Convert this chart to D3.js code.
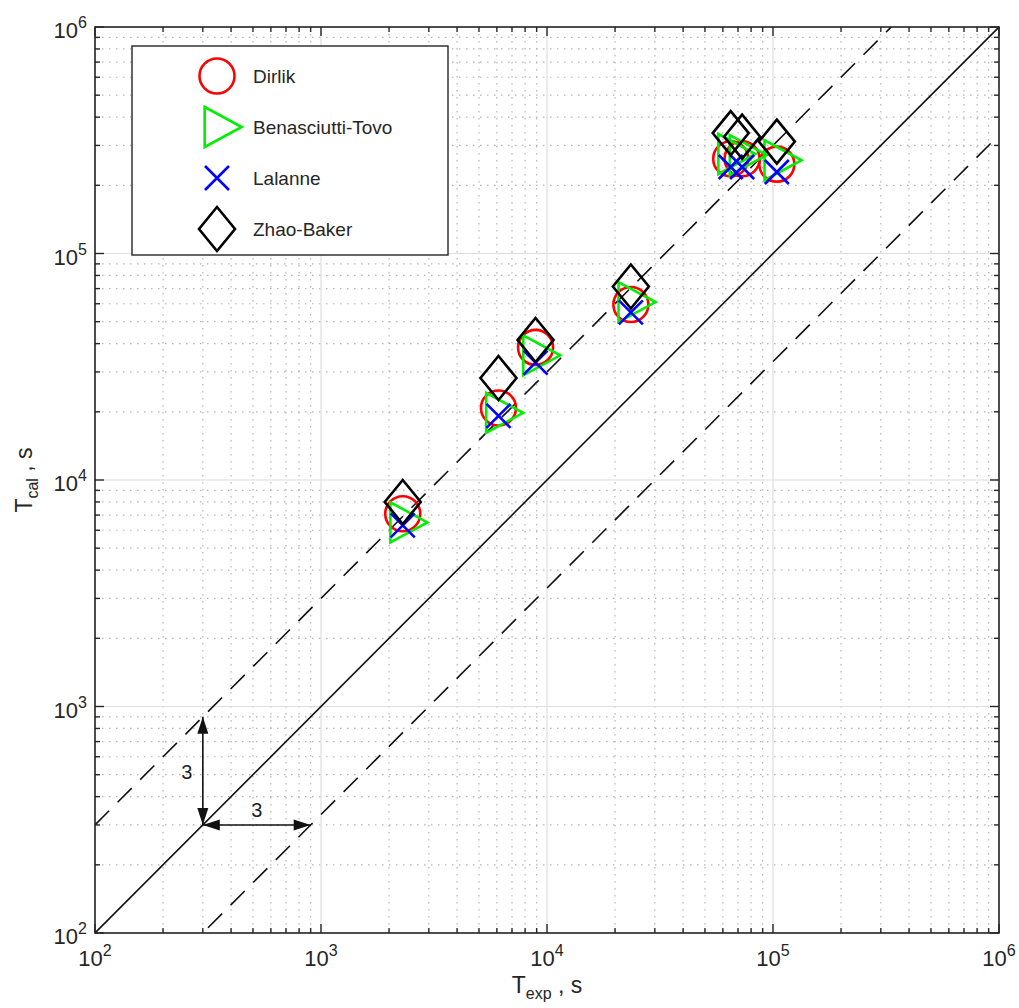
<!DOCTYPE html>
<html>
<head>
<meta charset="utf-8">
<script src="https://cdn.jsdelivr.net/npm/d3@7"></script>
<style>
  html, body { margin: 0; padding: 0; background: #fff; overflow: hidden; }
  svg { display: block; font-family: "Liberation Sans", Arial, sans-serif; }
</style>
</head>
<body>
<svg width="1019" height="1008"></svg>
<script>
const width = 1019;
const height = 1008;

// experimental fatigue lives (s)
const tExp = [2300, 6100, 8900, 23500, 65000, 73000, 104000];
// calculated fatigue lives (s) per method
const dirlik = [7100, 20800, 38500, 59500, 262000, 262000, 248000];
const benasciuttiTovo = [6500, 19800, 35500, 61000, 275000, 272000, 258000];
const lalanne = [6300, 19200, 33000, 55000, 241000, 241000, 229000];
const zhaoBaker = [8000, 28200, 41500, 71500, 340000, 328000, 312000];

const seriesNames = ['Dirlik', 'Benasciutti-Tovo', 'Lalanne', 'Zhao-Baker'];
const seriesValues = [dirlik, benasciuttiTovo, lalanne, zhaoBaker];
const seriesColors = ['#ff0000', '#00ee00', '#0000ff', '#000000'];
const seriesShapes = ['circle', 'triangle', 'cross', 'diamond'];

const decades = [1e2, 1e3, 1e4, 1e5, 1e6];
const scatterFactor = 3;

const svg = d3.select('svg');

const margin = { top: 27, right: 20, bottom: 75, left: 95 };
const innerWidth = width - margin.left - margin.right;
const innerHeight = height - margin.top - margin.bottom;

const xScale = d3.scaleLog().domain([1e2, 1e6]).range([margin.left, margin.left + innerWidth]);
const yScale = d3.scaleLog().domain([1e2, 1e6]).range([margin.top + innerHeight, margin.top]);

const x0 = xScale.range()[0], x1 = xScale.range()[1];
const y0 = yScale.range()[1], y1 = yScale.range()[0];

// minor values 2..9 in each decade
const minors = [];
decades.slice(0, -1).forEach(d => {
    for (let k = 2; k <= 9; k++) minors.push(d * k);
});

svg.append('defs').append('clipPath').attr('id', 'plot')
    .append('rect')
    .attr('x', x0).attr('y', y0)
    .attr('width', x1 - x0).attr('height', y1 - y0);

// grid
const grid = svg.append('g');
grid.selectAll('.minor-x').data(minors).enter().append('line')
    .attr('x1', d => xScale(d)).attr('x2', d => xScale(d))
    .attr('y1', y0).attr('y2', y1)
    .attr('stroke', '#b4b4b4').attr('stroke-width', 1.2)
    .attr('stroke-dasharray', '1.5,5.5');
grid.selectAll('.minor-y').data(minors).enter().append('line')
    .attr('y1', d => yScale(d)).attr('y2', d => yScale(d))
    .attr('x1', x0).attr('x2', x1)
    .attr('stroke', '#b4b4b4').attr('stroke-width', 1.2)
    .attr('stroke-dasharray', '1.5,5.5');
grid.selectAll('.major-x').data(decades).enter().append('line')
    .attr('x1', d => xScale(d)).attr('x2', d => xScale(d))
    .attr('y1', y0).attr('y2', y1)
    .attr('stroke', '#dedede').attr('stroke-width', 1.2);
grid.selectAll('.major-y').data(decades).enter().append('line')
    .attr('y1', d => yScale(d)).attr('y2', d => yScale(d))
    .attr('x1', x0).attr('x2', x1)
    .attr('stroke', '#dedede').attr('stroke-width', 1.2);

// reference lines: y = x, y = 3x, y = x/3
const lines = svg.append('g').attr('clip-path', 'url(#plot)');
const refLines = [
    { f: 1, dash: null },
    { f: scatterFactor, dash: '20,12' },
    { f: 1 / scatterFactor, dash: '20,12' }
];
refLines.forEach(r => {
    lines.append('line')
        .attr('x1', xScale(1e2)).attr('y1', yScale(1e2 * r.f))
        .attr('x2', xScale(1e6)).attr('y2', yScale(1e6 * r.f))
        .attr('stroke', '#111').attr('stroke-width', 1.6)
        .attr('stroke-dasharray', r.dash);
});

// arrows showing factor 3
const arrows = svg.append('g');
const arrowHead = (x, y, dx, dy) => {
    const L = 17, W = 5.5;
    const nx = -dy, ny = dx;
    return `M${x},${y}L${x - dx * L + nx * W},${y - dy * L + ny * W}L${x - dx * L - nx * W},${y - dy * L - ny * W}Z`;
};
const ax = xScale(300), ay = yScale(300);
const topY = yScale(900), rightX = xScale(900);
arrows.append('line').attr('x1', ax).attr('y1', ay).attr('x2', ax).attr('y2', topY)
    .attr('stroke', '#111').attr('stroke-width', 1.6);
arrows.append('line').attr('x1', ax).attr('y1', ay).attr('x2', rightX).attr('y2', ay)
    .attr('stroke', '#111').attr('stroke-width', 1.6);
[
    arrowHead(ax, topY, 0, -1),
    arrowHead(ax, ay, 0, 1),
    arrowHead(ax, ay, -1, 0),
    arrowHead(rightX, ay, 1, 0)
].forEach(p => arrows.append('path').attr('d', p).attr('fill', '#111'));
arrows.append('text').text('3')
    .attr('x', ax - 16).attr('y', (ay + topY) / 2 + 8)
    .attr('text-anchor', 'middle').attr('font-size', 20).attr('fill', '#222');
arrows.append('text').text('3')
    .attr('x', (ax + rightX) / 2).attr('y', ay - 8)
    .attr('text-anchor', 'middle').attr('font-size', 20).attr('fill', '#222');

// marker shapes
const markerPath = (shape) => {
    if (shape === 'circle') {
        const r = 17.5;
        return `M${r},0A${r},${r} 0 1,1 ${-r},0A${r},${r} 0 1,1 ${r},0Z`;
    }
    if (shape === 'triangle') {
        const w = 37, h = 40;
        return `M${-w / 3},${-h / 2}L${2 * w / 3},0L${-w / 3},${h / 2}Z`;
    }
    if (shape === 'cross') {
        const s = 12;
        return `M${-s},${-s}L${s},${s}M${-s},${s}L${s},${-s}`;
    }
    const w = 18, h = 22;
    return `M0,${-h}L${w},0L0,${h}L${-w},0Z`;
};

const points = svg.append('g');
seriesValues.forEach((vals, i) => {
    points.selectAll('.s' + i)
        .data(vals.map((v, j) => ({ x: tExp[j], y: v })))
        .enter().append('path')
        .attr('transform', d => `translate(${xScale(d.x)},${yScale(d.y)})`)
        .attr('d', markerPath(seriesShapes[i]))
        .attr('fill', 'none')
        .attr('stroke', seriesColors[i])
        .attr('stroke-width', 2.6)
        .attr('stroke-linejoin', 'miter');
});

// axes box and ticks
const axes = svg.append('g').attr('stroke', '#262626');
axes.append('rect')
    .attr('x', x0).attr('y', y0)
    .attr('width', x1 - x0).attr('height', y1 - y0)
    .attr('fill', 'none').attr('stroke-width', 1.6);
const tickDefs = decades.map(d => ({ v: d, len: 9 })).concat(minors.map(d => ({ v: d, len: 5 })));
tickDefs.forEach(t => {
    const x = xScale(t.v), y = yScale(t.v);
    axes.append('line').attr('x1', x).attr('x2', x).attr('y1', y1).attr('y2', y1 - t.len).attr('stroke-width', 1.4);
    axes.append('line').attr('x1', x).attr('x2', x).attr('y1', y0).attr('y2', y0 + t.len).attr('stroke-width', 1.4);
    axes.append('line').attr('y1', y).attr('y2', y).attr('x1', x0).attr('x2', x0 + t.len).attr('stroke-width', 1.4);
    axes.append('line').attr('y1', y).attr('y2', y).attr('x1', x1).attr('x2', x1 - t.len).attr('stroke-width', 1.4);
});

// tick labels: "10" plus a separate superscript text
const expOf = d => Math.round(Math.log10(d));
const labels = svg.append('g').attr('fill', '#262626');
const powerLabel = (x, y, d, anchor) => {
    const base = labels.append('text').text('10').attr('font-size', 22).attr('y', y);
    const sup = labels.append('text').text(expOf(d)).attr('font-size', 16).attr('y', y - 10);
    const wb = base.node().getComputedTextLength();
    const ws = sup.node().getComputedTextLength();
    const left = anchor === 'middle' ? x - (wb + ws) / 2 : x - (wb + ws);
    base.attr('x', left);
    sup.attr('x', left + wb);
};
decades.forEach(d => {
    powerLabel(xScale(d), y1 + 33, d, 'middle');
    powerLabel(x0 - 8, yScale(d) + 11, d, 'end');
});

// axis titles: main letter, subscript and unit as separate texts
const subTitle = (g, main, sub, rest) => {
    const a = g.append('text').text(main).attr('font-size', 23).attr('x', 0).attr('y', 0);
    const b = g.append('text').text(sub).attr('font-size', 16).attr('y', 6);
    const c = g.append('text').text(rest).attr('font-size', 23).attr('y', 0);
    const wa = a.node().getComputedTextLength();
    const wb = b.node().getComputedTextLength();
    const wc = c.node().getComputedTextLength();
    const left = -(wa + wb + wc) / 2;
    a.attr('x', left);
    b.attr('x', left + wa);
    c.attr('x', left + wa + wb);
};
subTitle(labels.append('g').attr('transform', `translate(${(x0 + x1) / 2},993)`), 'T', 'exp', '\u00a0,\u00a0s');
subTitle(labels.append('g').attr('transform', `translate(32,${(y0 + y1) / 2}) rotate(-90)`), 'T', 'cal', '\u00a0,\u00a0s');

// legend
const legend = svg.append('g');
legend.append('rect')
    .attr('x', 132).attr('y', 46).attr('width', 316).attr('height', 209)
    .attr('fill', '#fff').attr('stroke', '#262626').attr('stroke-width', 1.4);
seriesNames.forEach((name, i) => {
    const ly = 76 + i * 51;
    legend.append('path')
        .attr('transform', `translate(217,${ly})`)
        .attr('d', markerPath(seriesShapes[i]))
        .attr('fill', 'none').attr('stroke', seriesColors[i]).attr('stroke-width', 2.6);
    legend.append('text').text(name)
        .attr('x', 253).attr('y', ly + 7)
        .attr('font-size', 19).attr('fill', '#262626');
});
</script>
</body>
</html>
